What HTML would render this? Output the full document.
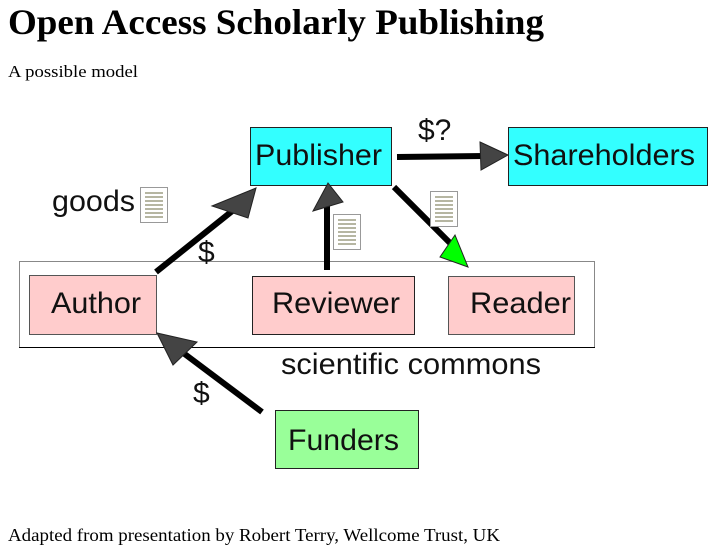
<!DOCTYPE html>
<html><head><meta charset="utf-8"><style>
html,body{margin:0;padding:0;background:#fff;width:709px;height:546px;overflow:hidden}
svg{display:block}
</style></head><body>
<svg width="709" height="546" xmlns="http://www.w3.org/2000/svg">
<defs>
<g id="doc">
<rect x="0.5" y="0.5" width="27" height="35" fill="#fff" stroke="#999"/>
<g stroke="#8a8a6a" stroke-width="1.2">
<line x1="5" y1="6" x2="23" y2="6"/><line x1="5" y1="10" x2="23" y2="10"/><line x1="5" y1="14" x2="23" y2="14"/><line x1="5" y1="18" x2="23" y2="18"/><line x1="5" y1="22" x2="23" y2="22"/><line x1="5" y1="26" x2="23" y2="26"/><line x1="5" y1="30" x2="23" y2="30"/>
</g></g>
</defs>
<text x="8" y="34" font-family="Liberation Serif, serif" font-weight="bold" font-size="36" textLength="536" lengthAdjust="spacingAndGlyphs">Open Access Scholarly Publishing</text>
<text x="8" y="77" font-family="Liberation Serif, serif" font-size="17" textLength="130" lengthAdjust="spacingAndGlyphs">A possible model</text>

<rect x="19.5" y="261.5" width="575" height="86" fill="#fff" stroke="#888"/>
<line x1="19" y1="347.5" x2="595" y2="347.5" stroke="#000"/>

<g font-family="Liberation Sans, sans-serif" font-size="30" fill="#111">
<rect x="250.5" y="127.5" width="141" height="58" fill="#3ff" stroke="#222"/>
<text x="255" y="165" textLength="127" lengthAdjust="spacingAndGlyphs">Publisher</text>
<rect x="508.5" y="127.5" width="199" height="58" fill="#3ff" stroke="#222"/>
<text x="513" y="165" textLength="182" lengthAdjust="spacingAndGlyphs">Shareholders</text>
<rect x="29.5" y="275.5" width="127" height="59" fill="#fcc" stroke="#555"/>
<text x="51" y="313" textLength="90" lengthAdjust="spacingAndGlyphs">Author</text>
<rect x="252.5" y="276.5" width="162" height="58" fill="#fcc" stroke="#222"/>
<text x="272" y="313" textLength="128" lengthAdjust="spacingAndGlyphs">Reviewer</text>
<rect x="448.5" y="276.5" width="126" height="58" fill="#fcc" stroke="#555"/>
<text x="470" y="313" textLength="101" lengthAdjust="spacingAndGlyphs">Reader</text>
<rect x="275.5" y="410.5" width="143" height="58" fill="#9f9" stroke="#222"/>
<text x="288" y="450" textLength="111" lengthAdjust="spacingAndGlyphs">Funders</text>
<text x="52" y="211" textLength="83" lengthAdjust="spacingAndGlyphs">goods</text>
<text x="198" y="262">$</text>
<text x="418" y="140">$?</text>
<text x="193" y="403">$</text>
<text x="281" y="374" textLength="260" lengthAdjust="spacingAndGlyphs">scientific commons</text>
</g>

<g stroke="#000" stroke-width="6" fill="none">
<line x1="156" y1="272" x2="236" y2="208"/>
<line x1="327" y1="270" x2="327" y2="200"/>
<line x1="397" y1="157" x2="485" y2="156"/>
<line x1="394" y1="187" x2="450" y2="243"/>
<line x1="262" y1="412" x2="178" y2="349"/>
</g>
<g stroke="#222" stroke-width="1">
<polygon points="212,206 256,188 248,218" fill="#444"/>
<polygon points="313,211 328,183 343,202" fill="#444"/>
<polygon points="480,142 508,155 481,170" fill="#444"/>
<polygon points="440,257 455,235 468,267" fill="#0f0"/>
<polygon points="157,333 173,365 197,342" fill="#444"/>
</g>

<use href="#doc" x="140" y="187"/>
<use href="#doc" x="333" y="214"/>
<use href="#doc" x="430" y="191"/>

<text x="8" y="541" font-family="Liberation Serif, serif" font-size="18" textLength="492" lengthAdjust="spacingAndGlyphs">Adapted from presentation by Robert Terry, Wellcome Trust, UK</text>
</svg>
</body></html>
